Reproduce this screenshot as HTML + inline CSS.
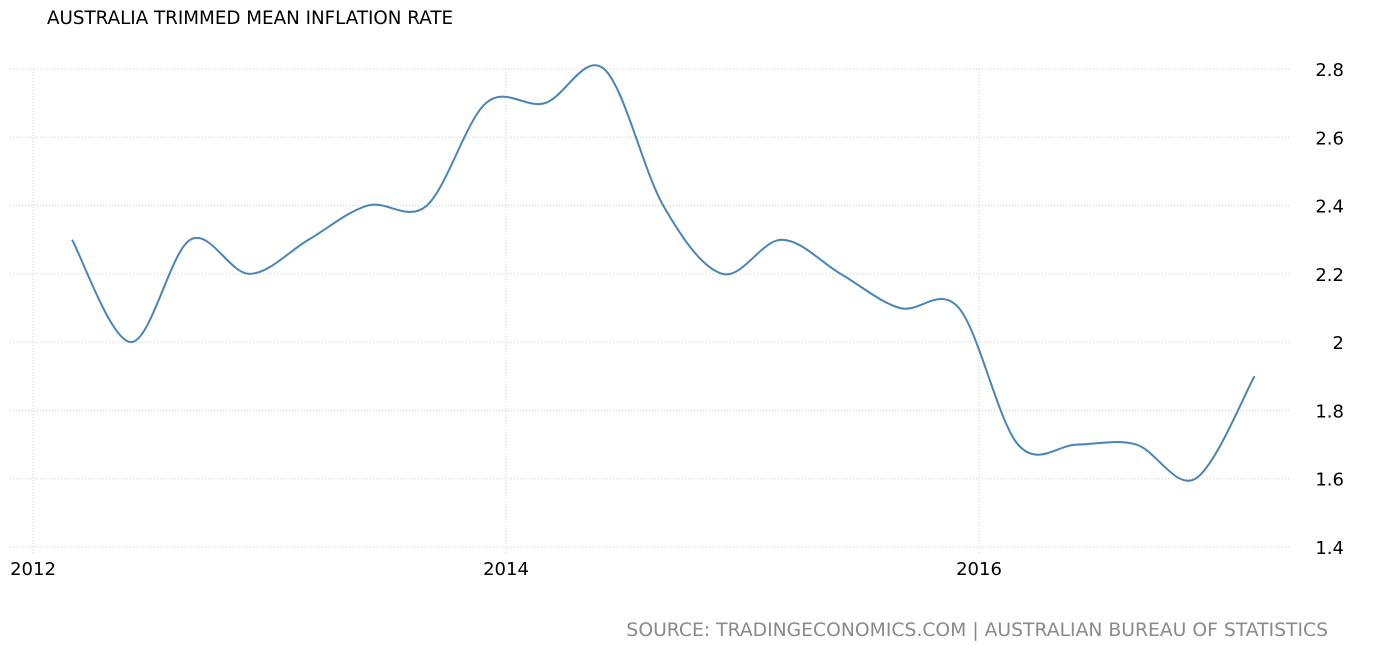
<!DOCTYPE html>
<html><head><meta charset="utf-8"><style>
html,body{margin:0;padding:0;background:#fff;width:1382px;height:654px;overflow:hidden}
svg text{font-family:"DejaVu Sans","Liberation Sans",sans-serif}
</style></head><body>
<svg id="chart" width="1382" height="654">
<text x="47" y="24" font-size="18.3" fill="#000">AUSTRALIA TRIMMED MEAN INFLATION RATE</text>
<g id="grid"></g><g id="axes"></g>
<path id="line" fill="none" stroke="#4a85b7" stroke-width="2"/>
<text x="1328" y="636" font-size="18.75" fill="#8a8a8a" text-anchor="end">SOURCE: TRADINGECONOMICS.COM | AUSTRALIAN BUREAU OF STATISTICS</text>
</svg>
<script>
const values=[2.3,2.0,2.3,2.2,2.3,2.4,2.4,2.7,2.7,2.8,2.4,2.2,2.3,2.2,2.1,2.1,1.7,1.7,1.7,1.6,1.9];
const startYear=2012.165;
const yTicks=[1.4,1.6,1.8,2,2.2,2.4,2.6,2.8];
const yTickLabels=["1.4","1.6","1.8","2","2.2","2.4","2.6","2.8"];
const xTicks=[2012,2014,2016];
const X=t=>33+(t-2012)*236.5;
const Y=v=>547-(v-1.4)/1.4*478;
const ns="http://www.w3.org/2000/svg";
const grid=document.getElementById('grid'),axes=document.getElementById('axes');
function mk(tag,attrs,parent){const e=document.createElementNS(ns,tag);for(const k in attrs)e.setAttribute(k,attrs[k]);parent.appendChild(e);return e;}
yTicks.forEach((v,i)=>{
 const l=mk('line',{x1:10,x2:1290,y1:Y(v),y2:Y(v),stroke:'#cfcfcf','stroke-dasharray':'1,2'},grid);
 
 
 const t=mk('text',{x:1344,y:Y(v)+7,'font-size':18,'text-anchor':'end',fill:'#000'},axes);
 t.textContent=yTickLabels[i];
 
 
});
xTicks.forEach(yr=>{
 const l=mk('line',{x1:X(yr),x2:X(yr),y1:69,y2:555,stroke:'#cfcfcf','stroke-dasharray':'1,2'},grid);
 
 
 const t=mk('text',{x:X(yr),y:575,'font-size':18,'text-anchor':'middle',fill:'#000'},axes);
 t.textContent=String(yr);
 
 
});
const pts=values.map((v,i)=>[X(startYear+i*0.25),Y(v)]);
let d='M'+pts[0][0]+','+pts[0][1];
for(let i=0;i<pts.length-1;i++){
 const p0=pts[Math.max(0,i-1)],p1=pts[i],p2=pts[i+1],p3=pts[Math.min(pts.length-1,i+2)];
 const k=1/6;
 d+=' C'+(p1[0]+(p2[0]-p0[0])*k)+','+(p1[1]+(p2[1]-p0[1])*k)+' '+(p2[0]-(p3[0]-p1[0])*k)+','+(p2[1]-(p3[1]-p1[1])*k)+' '+p2[0]+','+p2[1];
}
document.getElementById('line').setAttribute('d',d);
</script>
</body></html>
